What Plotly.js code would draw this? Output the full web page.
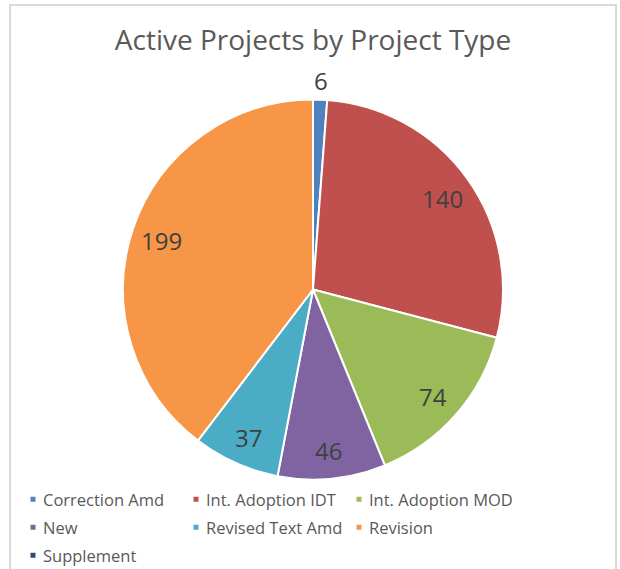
<!DOCTYPE html>
<html><head><meta charset="utf-8">
<script src="https://cdn.plot.ly/plotly-3.0.1.min.js"></script>
<style>
body{margin:0;background:#fff}
#wrap{position:relative;width:620px;height:569px;overflow:hidden}
#chart{width:620px;height:600px}
#frame{position:absolute;left:9px;top:4px;width:604px;height:700px;border:2px solid #d9d9d9;pointer-events:none}
</style>
</head><body>
<div id="wrap"><div id="chart"></div><div id="frame"></div></div>
<script>
const categories = ["Correction Amd","Int. Adoption IDT","Int. Adoption MOD","New","Revised Text Amd","Revision","Supplement"];
const values = [6,140,74,46,37,199,0];
const colors = ["#4F81BD","#C0504D","#9BBB59","#8064A2","#4BACC6","#F79646","#2C4D75"];
const labelPositions = ["outside","inside","inside","inside","inside","inside","inside"];

// the figure is drawn a little taller than the 569px window (bottom legend row sits at the edge, as in the reference)
const W = 620, H = 600;
const cx = 313, cy = 289.5, R = 190;
const FONT = "Open Sans, sans-serif";

// data labels placed along each slice's mid-angle (computed from the values)
const total = values.reduce((a, b) => a + b, 0);
const annotations = [];
let cum = 0;
values.forEach((v, i) => {
  const mid = (cum + v / 2) / total * 2 * Math.PI;
  cum += v;
  if (v <= 0) return;
  const r = labelPositions[i] === "outside" ? R + 21 : R * 0.84;
  const px = cx + r * Math.sin(mid);
  const py = cy - r * Math.cos(mid);
  annotations.push({
    xref: "paper", yref: "paper",
    x: px / W, y: 1 - py / H,
    xanchor: "center", yanchor: "middle", yshift: -2,
    text: String(v), showarrow: false,
    font: {family: FONT, size: 24, color: "#404040"}
  });
});

const trace = {
  type: "pie",
  labels: categories,
  values: values,
  sort: false,
  direction: "clockwise",
  rotation: 0,
  marker: {colors: colors, line: {color: "#ffffff", width: 2}},
  textinfo: "none",
  domain: {x: [(cx - R) / W, (cx + R) / W], y: [1 - (cy + R) / H, 1 - (cy - R) / H]},
  hoverinfo: "label+value",
  automargin: false
};

const layout = {
  width: W, height: H,
  margin: {l: 0, r: 0, t: 0, b: 0},
  paper_bgcolor: "#ffffff",
  title: {
    text: "Active Projects by Project Type",
    font: {family: FONT, size: 28, color: "#595959"},
    x: 313 / W, xanchor: "center", y: 1 - 40 / H, yanchor: "middle", yref: "container"
  },
  annotations: annotations,
  showlegend: true,
  legend: {
    orientation: "h",
    x: 3 / W, xanchor: "left",
    y: 1 - 482 / H, yanchor: "top",
    bgcolor: "rgba(0,0,0,0)",
    entrywidth: 118, entrywidthmode: "pixels",
    font: {family: FONT, size: 16.5, color: "#595959"},
    traceorder: "normal",
    tracegroupgap: 0,
    itemclick: false
  }
};

Plotly.newPlot("chart", [trace], layout, {staticPlot: true, displayModeBar: false}).then(() => {
  // smaller legend squares, closer to the text (as in the reference)
  document.querySelectorAll("#chart .legend path.legendpie").forEach(p => {
    p.setAttribute("d", "M13.5,3.5H6.5V-3.5H13.5Z");
  });
  // do not clip the last legend column
  document.querySelectorAll("#chart .legend .scrollbox, #chart .legend").forEach(s => s.removeAttribute("clip-path"));
  // legend rows 28px apart, as in the reference
  const items = Array.from(document.querySelectorAll("#chart .legend .traces"));
  const parse = el => {
    const m = /translate\(\s*([-\d.e]+)[\s,]+([-\d.e]+)\s*\)/.exec(el.getAttribute("transform") || "");
    return m ? [parseFloat(m[1]), parseFloat(m[2])] : [0, 0];
  };
  const ys = [...new Set(items.map(e => parse(e)[1]))].sort((a, b) => a - b);
  items.forEach(e => {
    const [x, y] = parse(e);
    e.setAttribute("transform", `translate(${x},${ys[0] + ys.indexOf(y) * 28})`);
  });
});
</script>
</body></html>
